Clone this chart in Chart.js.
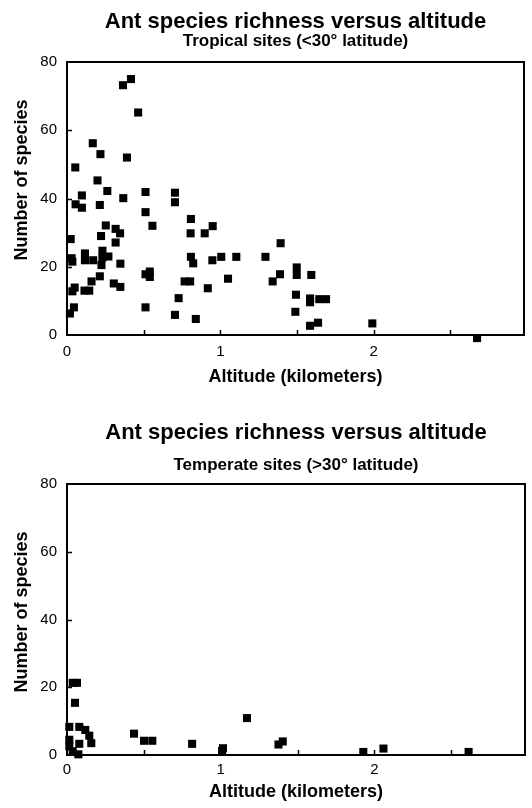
<!DOCTYPE html>
<html>
<head>
<meta charset="utf-8">
<title>Ant species richness versus altitude</title>
<script src="https://cdn.jsdelivr.net/npm/chart.js@4.4.1/dist/chart.umd.min.js"></script>
<style>
body { margin: 0; background: #fff; }
.panel { position: absolute; left: 0; width: 532px; height: 404px; }
#topPanel { top: 0; }
#bottomPanel { top: 404px; }
</style>
</head>
<body>
<div class="panel" id="topPanel"><canvas id="tropicalChart" width="532" height="404"></canvas></div>
<div class="panel" id="bottomPanel"><canvas id="temperateChart" width="532" height="404"></canvas></div>
<script>
/* ==========================================
DATA
========================================== */

const mainTitle = "Ant species richness versus altitude";
const tropicalSubtitle = "Tropical sites (<30\u00b0 latitude)";
const temperateSubtitle = "Temperate sites (>30\u00b0 latitude)";
const xAxisTitle = "Altitude (kilometers)";
const yAxisTitle = "Number of species";

const speciesTicks = [0, 20, 40, 60, 80];
const altitudeTicks = [0, 1, 2];

const tropicalAltitude = [
0.365, 0.417, 0.464, 0.168, 0.218, 0.391, 0.054, 0.199, 0.263, 0.512,
0.704, 0.704, 0.097, 0.056, 0.097, 0.214, 0.367, 0.512, 0.557, 0.808,
0.806, 0.898, 0.950, 0.253, 0.317, 0.346, 0.222, 0.317, 0.024, 0.035,
0.030, 0.117, 0.117, 0.171, 0.231, 0.231, 0.270, 0.225, 0.348, 0.808,
0.823, 0.948, 1.006, 1.104, 1.294, 1.393, 0.512, 0.540, 0.540, 0.214,
0.160, 0.305, 0.348, 0.767, 0.803, 1.050, 1.389, 1.341, 0.050, 0.035,
0.114, 0.145, 0.918, 0.728, 0.045, 0.019, 0.512, 0.704, 0.840, 1.498,
1.498, 1.593, 1.493, 1.585, 1.585, 1.645, 1.689, 1.489, 1.585, 1.637,
1.991, 2.674
];

const tropicalSpecies = [
73.2, 75.0, 65.2, 56.2, 53.0, 52.0, 49.1, 45.3, 42.2, 41.9,
41.7, 38.9, 40.9, 38.3, 37.3, 38.1, 40.1, 36.0, 32.0, 34.0,
29.8, 29.8, 31.9, 32.1, 31.1, 29.8, 29.0, 27.1, 28.1, 21.5,
22.5, 23.9, 21.9, 21.9, 24.7, 22.7, 23.0, 20.5, 20.9, 22.9,
21.0, 21.9, 22.9, 22.9, 22.9, 26.9, 17.8, 18.6, 17.0, 17.2,
15.7, 15.1, 14.1, 15.7, 15.7, 16.5, 17.8, 15.7, 13.9, 12.8,
13.0, 13.0, 13.7, 10.8, 8.1, 6.3, 8.1, 5.9, 4.7, 19.8,
17.6, 17.6, 11.8, 10.7, 9.6, 10.5, 10.5, 6.8, 2.7, 3.6,
3.4, -0.9
];

const temperateAltitude = [
0.037, 0.065, 0.052, 0.015, 0.080, 0.119, 0.145, 0.158, 0.080, 0.015,
0.015, 0.037, 0.074, 0.436, 0.501, 0.555, 0.814, 1.009, 1.015, 1.171,
1.376, 1.404, 1.928, 2.059, 2.613
];

const temperateSpecies = [
21.3, 21.3, 15.4, 8.3, 8.3, 7.4, 5.7, 3.5, 3.3, 4.5,
2.6, 1.1, 0.2, 6.3, 4.2, 4.2, 3.3, 1.2, 2.0, 10.9,
3.1, 4.0, 0.9, 1.9, 0.9
];


/* ==========================================
DEFAULTS
========================================== */

Chart.defaults.font.family = "'Liberation Sans', Arial, Helvetica, sans-serif";
Chart.defaults.color = "#000";


/* ==========================================
PLUGINS: FRAME, INWARD TICKS, Y TITLE
========================================== */

const frameTicks = {

id: "frameTicks",

beforeDatasetsDraw(chart){

const ctx = chart.ctx;
const a = chart.chartArea;
const xs = chart.scales.x;
const ys = chart.scales.y;

ctx.save();
ctx.strokeStyle = "#000";
ctx.lineWidth = 2;
ctx.strokeRect(a.left, a.top, a.right - a.left, a.bottom - a.top);

ctx.lineWidth = 1.5;
ctx.beginPath();

xs.ticks.forEach(t => {
if(t.value <= xs.min || t.value >= xs.max) return;
const px = Math.round(xs.getPixelForValue(t.value)) + 0.5;
ctx.moveTo(px, a.bottom);
ctx.lineTo(px, a.bottom - 5);
});

ys.ticks.forEach(t => {
if(t.value <= ys.min || t.value >= ys.max) return;
const py = Math.round(ys.getPixelForValue(t.value)) + 0.5;
ctx.moveTo(a.left, py);
ctx.lineTo(a.left + 5, py);
});

ctx.stroke();
ctx.restore();

}

};

const yTitle = {

id: "yTitle",

afterDraw(chart, args, opts){

const ctx = chart.ctx;

ctx.save();
ctx.translate(opts.x, opts.y);
ctx.rotate(-Math.PI / 2);
ctx.font = "bold 18px 'Liberation Sans', Arial, sans-serif";
ctx.fillStyle = "#000";
ctx.textAlign = "center";
ctx.textBaseline = "middle";
ctx.fillText(opts.text, 0, 0);
ctx.restore();

}

};


/* ==========================================
SCATTER GENERATOR
========================================== */

function createScatter(
canvasId,
altitude,
species,
subtitle,
layout
){

const points = altitude.map((x, i) => ({ x: x, y: species[i] }));

new Chart(
document.getElementById(canvasId),
{

type: "scatter",

data: {

datasets: [{

label: subtitle,

data: points,

pointStyle: "rect",

pointRadius: 5.7,

pointHoverRadius: 5.7,

backgroundColor: "#000",

borderWidth: 0,

clip: false

}]
},

options: {

responsive: false,

animation: false,

layout: {
padding: { top: 0, right: 7, bottom: 0, left: 0 }
},

plugins: {

legend: { display: false },

tooltip: { enabled: false },

title: {
display: true,
fullSize: false,
text: mainTitle,
font: { size: 22, weight: "bold", lineHeight: 1 },
padding: { top: layout.titleTop, bottom: layout.titleGap }
},

subtitle: {
display: true,
fullSize: false,
text: subtitle,
font: { size: 17, weight: "bold", lineHeight: 1 },
padding: { top: 0, bottom: layout.subGap }
},

yTitle: {
text: yAxisTitle,
x: 22,
y: layout.yTitleY
}

},

scales: {

x: {
type: "linear",
min: 0,
max: 2.98,
grid: { display: false, drawTicks: false },
border: { display: false },
ticks: {
stepSize: 0.5,
autoSkip: false,
maxRotation: 0,
padding: layout.xTickPad,
font: { size: 15 },
callback: v => altitudeTicks.includes(v) ? v : ""
},
title: {
display: true,
text: xAxisTitle,
font: { size: 18, weight: "bold" },
padding: { top: 0, bottom: layout.xTitlePad }
},
afterFit: s => { s.height = layout.xHeight; }
},

y: {
min: 0,
max: 80,
grid: { display: false, drawTicks: false },
border: { display: false },
ticks: {
stepSize: 20,
padding: 10,
font: { size: 15 },
callback: v => speciesTicks.includes(v) ? v : ""
},
afterFit: s => { s.width = 67; }
}

}

},

plugins: [frameTicks, yTitle]

}
);

}


/* ==========================================
DRAW BOTH PANELS
========================================== */

createScatter(
"tropicalChart",
tropicalAltitude,
tropicalSpecies,
tropicalSubtitle,
{ titleTop: 11, titleGap: 0, subGap: 12, xHeight: 69, xTickPad: 8, xTitlePad: 16, yTitleY: 180 }
);

createScatter(
"temperateChart",
temperateAltitude,
temperateSpecies,
temperateSubtitle,
{ titleTop: 18, titleGap: 12.5, subGap: 10.5, xHeight: 53, xTickPad: 6, xTitlePad: 5, yTitleY: 208 }
);
</script>
</body>
</html>
